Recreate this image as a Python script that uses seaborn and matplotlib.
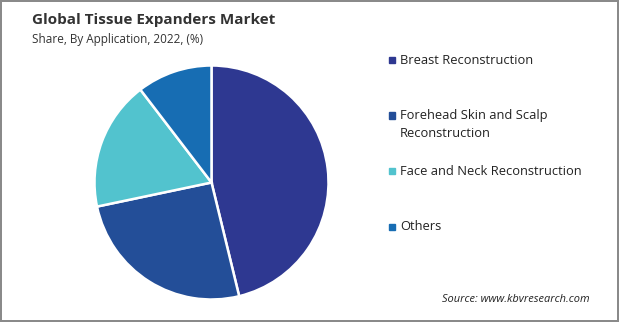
import matplotlib
matplotlib.use('Agg')
import matplotlib.pyplot as plt
import seaborn as sns

# data
applications = ['Breast Reconstruction',
                'Forehead Skin and Scalp\nReconstruction',
                'Face and Neck Reconstruction',
                'Others']
shares = [46.2, 25.5, 17.9, 10.4]
colors = ['#2e3891', '#234e98', '#52c3ce', '#176db3']

title = 'Global Tissue Expanders Market'
subtitle = 'Share, By Application, 2022, (%)'
source = 'Source: www.kbvresearch.com'

sns.set_theme(style='white')
plt.rcParams['font.family'] = ['Open Sans', 'DejaVu Sans']

W, H = 619, 322
fig = plt.figure(figsize=(W / 100, H / 100), dpi=100)
fig.patch.set_edgecolor('#8a8a8a')
fig.patch.set_linewidth(1.5)

# pie: centre ~(211.5, 182.5) px, radius ~117 px
cx, cy, r = 211.5, 182.5, 117
ax = fig.add_axes([(cx - r) / W, 1 - (cy + r) / H, 2 * r / W, 2 * r / H])
ax.pie(shares, colors=colors, startangle=90, counterclock=False,
       wedgeprops=dict(edgecolor='white', linewidth=1.8))
ax.set_xlim(-1, 1)
ax.set_ylim(-1, 1)
ax.set_aspect('equal')
ax.axis('off')

# titles
fig.text(32 / W, 1 - 20 / H, title, fontsize=11, fontweight='bold',
         color='#333333', va='center', ha='left')
fig.text(32 / W, 1 - 40 / H, subtitle, fontsize=8.5, color='#333333',
         va='center', ha='left')

# legend
for i, (lab, col) in enumerate(zip(applications, colors)):
    y = 60 + 55.5 * i
    fig.patches.append(plt.Rectangle((389 / W, 1 - (y + 3) / H), 6 / W, 6 / H,
                                     transform=fig.transFigure, color=col,
                                     figure=fig))
    fig.text(400 / W, 1 - (y - 6) / H, lab, fontsize=9.3, color='#222222',
             va='top', ha='left', linespacing=1.45)

fig.text(590 / W, 1 - 299 / H, source, fontsize=7.9, style='italic',
         color='#222222', va='center', ha='right')

fig.savefig('out.png', dpi=100)
